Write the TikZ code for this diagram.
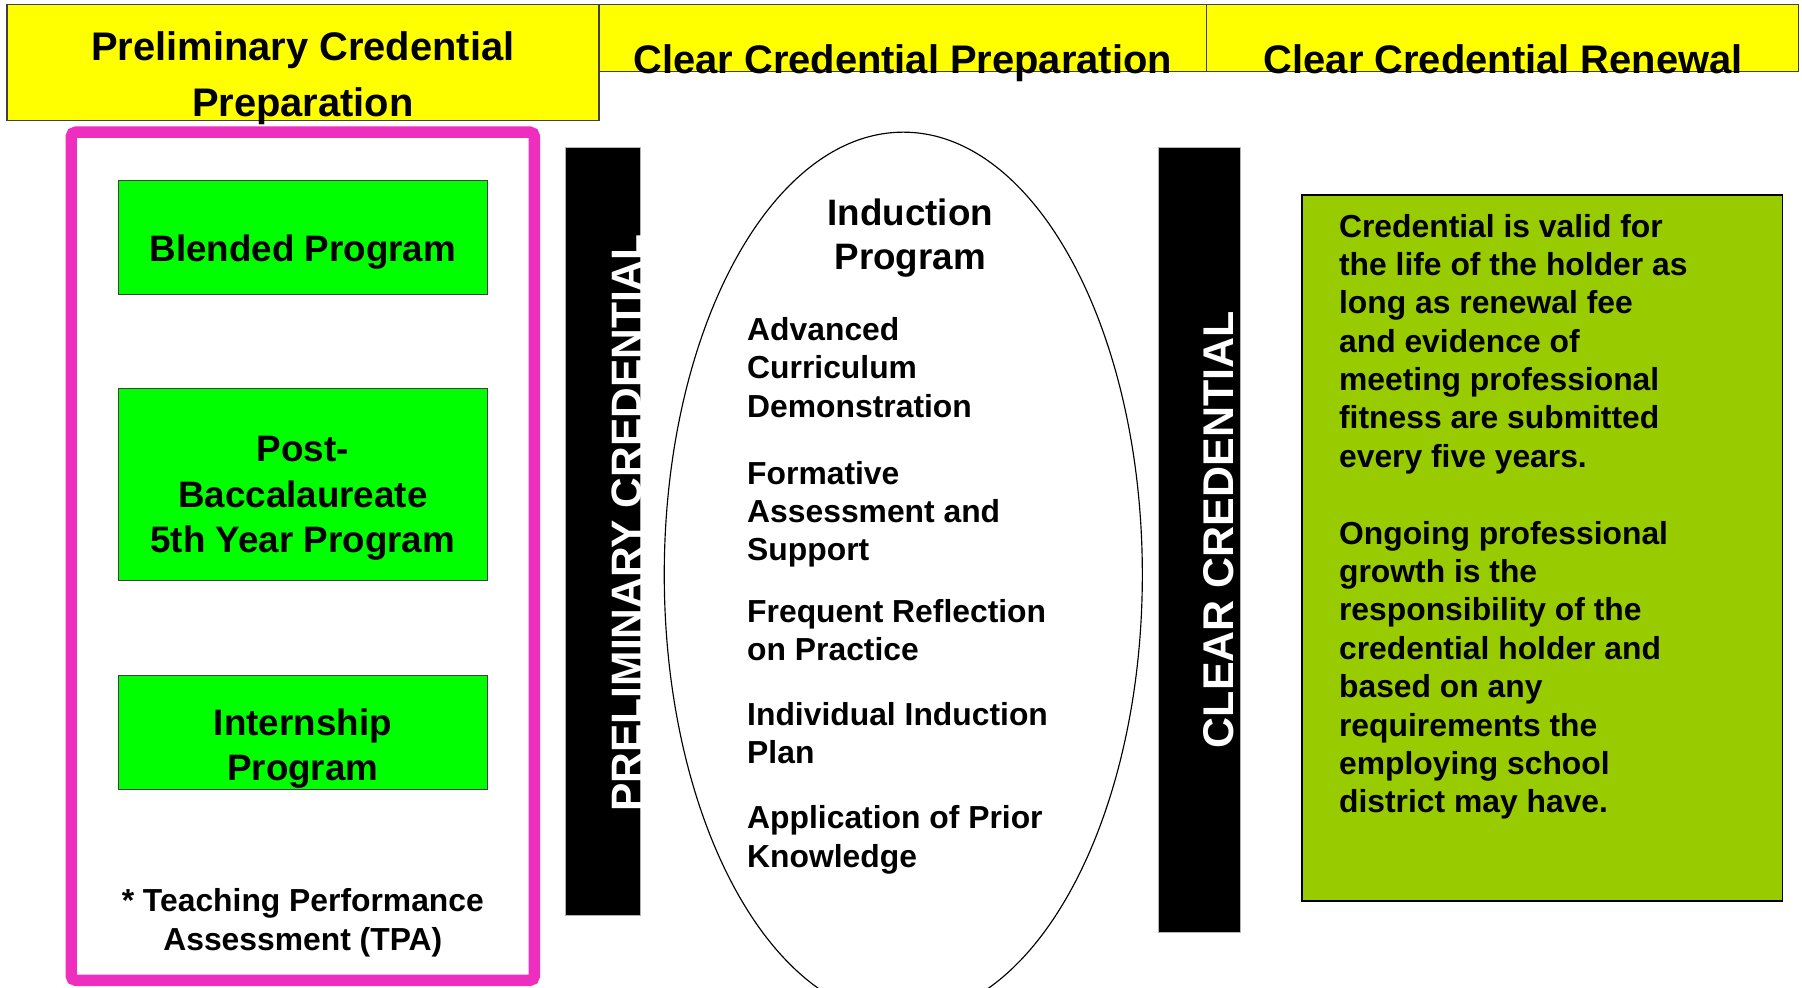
\documentclass[tikz,border=0pt]{standalone}
\usepackage{fontspec}
\setmainfont{Liberation Sans}
\usetikzlibrary{shapes.geometric}
\definecolor{hdryellow}{RGB}{255,255,0}
\definecolor{pathgreen}{RGB}{0,255,0}
\definecolor{renewgreen}{RGB}{153,204,0}
\definecolor{framepink}{RGB}{238,46,190}
\definecolor{edgegray}{RGB}{64,64,64}

\begin{document}
\begin{tikzpicture}[x=1pt,y=-1pt,
  box/.style={anchor=north west,inner sep=0pt,outer sep=0pt},
  hdr/.style={box,draw=edgegray,line width=1.3pt,fill=hdryellow},
  hdrtext/.style={inner sep=0pt,align=center,font=\fontsize{34.7}{49}\selectfont\bfseries},
  pathbox/.style={box,draw=edgegray,line width=1.1pt,fill=pathgreen,minimum width=321pt},
  pathtext/.style={anchor=north,inner sep=0pt,align=center,font=\fontsize{32}{39.5}\selectfont\bfseries},
  bodytext/.style={anchor=north west,inner sep=0pt,align=left,font=\fontsize{27.7}{33.4}\selectfont\bfseries},
  bar/.style={box,fill=black,draw=gray!60,line width=0.8pt},
  bartext/.style={inner sep=0pt,rotate=90,text=white}
]
\useasboundingbox (0,0) rectangle (1568,859);

% column headers
\node[hdr,minimum width=529pt,minimum height=58pt] (hdrClear) at (521,4) {};
\node[hdr,minimum width=515pt,minimum height=58pt] (hdrRenew) at (1050,4) {};
\node[hdr,minimum width=515pt,minimum height=101pt] (hdrPrelim) at (6,4) {};
\node[hdrtext,anchor=north] (tPrelim) at (263.5,27.2) {Preliminary Credential\\Preparation};
\node[hdrtext,anchor=base] (tClear) at (785.5,64) {Clear Credential Preparation};
\node[hdrtext,anchor=base] (tRenew) at (1308,64) {Clear Credential Renewal};

% preliminary pathways
\node[box,draw=framepink,line width=10pt,rounded corners=4pt,
      minimum width=403pt,minimum height=738pt] (frame) at (62,115) {};
\node[pathbox,minimum height=99pt] (blended) at (103,157) {};
\node[pathtext] (tBlended) at (263.5,204.5) {Blended Program};
\node[pathbox,minimum height=167pt] (postbacc) at (103,338) {};
\node[pathtext] (tPostbacc) at (263.5,379.5) {Post-\\Baccalaureate\\5th Year Program};
\node[pathbox,minimum height=99pt] (intern) at (103,588) {};
\node[pathtext] (tIntern) at (263.5,616.5) {Internship\\Program};
\node[bodytext,anchor=north,align=center] (tpa) at (263.5,773) {* Teaching Performance\\Assessment (TPA)};

% credential bars
\node[bar,minimum width=65pt,minimum height=669pt] (barPrelim) at (492,128) {};
\node[bartext,font=\fontsize{37}{40}\selectfont\bfseries] (tBarPrelim) at (545.3,455) {PRELIMINARY CREDENTIAL};
\node[bar,minimum width=71pt,minimum height=683pt] (barClear) at (1008,128) {};
\node[bartext,font=\fontsize{37.4}{40}\selectfont\bfseries] (tBarClear) at (1060.4,461) {CLEAR CREDENTIAL};

% induction program
\node[ellipse,draw=black,line width=1pt,fill=white,inner sep=0pt,
      minimum width=416pt,minimum height=770pt] (induction) at (786,500) {};
\node[pathtext,font=\fontsize{32}{39}\selectfont\bfseries] (tInduction) at (792,172.5) {Induction\\Program};
\node[bodytext] (item1) at (650,276) {Advanced\\Curriculum\\Demonstration};
\node[bodytext] (item2) at (650,401) {Formative\\Assessment and\\Support};
\node[bodytext] (item3) at (650,521) {Frequent Reflection\\on Practice};
\node[bodytext] (item4) at (650,611) {Individual Induction\\Plan};
\node[bodytext] (item5) at (650,701) {Application of Prior\\Knowledge};

% renewal
\node[box,draw=black,line width=1.6pt,fill=renewgreen,
      minimum width=418pt,minimum height=614pt] (renewal) at (1133,170) {};
\node[bodytext] (tRenewal) at (1165,186) {Credential is valid for\\the life of the holder as\\long as renewal fee\\and evidence of\\meeting professional\\fitness are submitted\\every five years.\\[33.4pt]Ongoing professional\\growth is the\\responsibility of the\\credential holder and\\based on any\\requirements the\\employing school\\district may have.};
\end{tikzpicture}
\end{document}
